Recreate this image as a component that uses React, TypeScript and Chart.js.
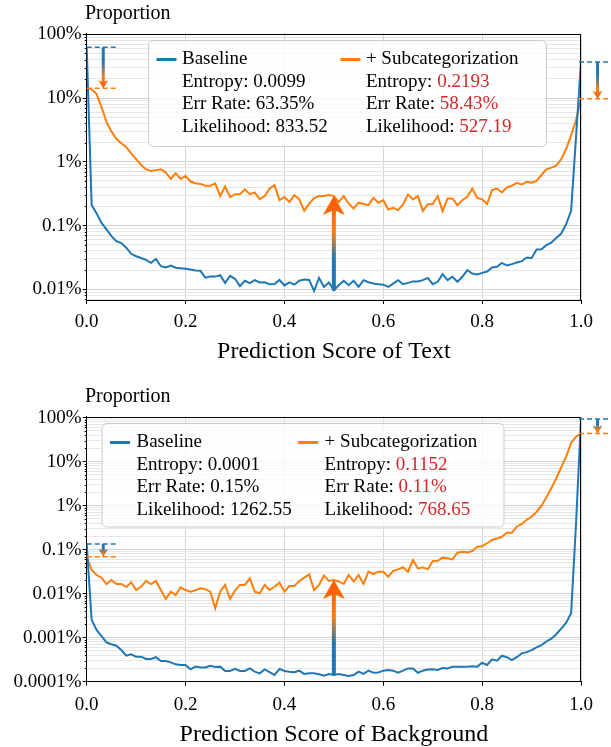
import React, { useEffect, useRef } from 'react';
import { Chart, registerables } from 'chart.js';

Chart.register(...registerables);

// ---------------- data ----------------
const SCORE_BINS = Array.from({ length: 101 }, (_, i) => i / 100);

// proportions in percent, Prediction Score of Text
const TEXT_BASELINE = [
  62.5, 0.21, 0.155, 0.11, 0.087, 0.068, 0.057, 0.053, 0.045, 0.036,
  0.033, 0.031, 0.029, 0.026, 0.030, 0.023, 0.022, 0.0235, 0.0218, 0.0214,
  0.021, 0.0205, 0.0197, 0.0195, 0.0152, 0.0158, 0.0158, 0.0166, 0.0126, 0.0162,
  0.0146, 0.0112, 0.0136, 0.0125, 0.0139, 0.0128, 0.0129, 0.012, 0.0121, 0.014,
  0.0115, 0.0128, 0.0118, 0.0136, 0.0142, 0.014, 0.0094, 0.0151, 0.0109, 0.0128,
  0.0097,
  0.0116, 0.0136, 0.0116, 0.0136, 0.0109, 0.0139, 0.0129, 0.0123, 0.012, 0.0118,
  0.0109, 0.0123, 0.0139, 0.012, 0.0126, 0.0133, 0.0133, 0.0139, 0.0151, 0.012,
  0.0131, 0.0173, 0.0139, 0.0157, 0.0131, 0.0157, 0.020, 0.0177, 0.0171, 0.0181,
  0.019, 0.022, 0.0225, 0.026, 0.0236, 0.0248, 0.0263, 0.0276, 0.0316, 0.0308,
  0.042, 0.0426, 0.0492, 0.054, 0.064, 0.075, 0.105, 0.17, 2.5, 36.7,
];

const TEXT_SUBCAT = [
  14.2, 13.8, 11.5, 7.2, 4.2, 3.0, 2.3, 1.95, 1.7, 1.35,
  1.1, 0.9, 0.76, 0.72, 0.74, 0.76, 0.68, 0.54, 0.66, 0.54,
  0.6, 0.49, 0.46, 0.45, 0.42, 0.42, 0.46, 0.29, 0.41, 0.28,
  0.31, 0.31, 0.37, 0.31, 0.33, 0.26, 0.29, 0.38, 0.43, 0.25,
  0.28, 0.235, 0.30, 0.26, 0.17, 0.22, 0.27, 0.29, 0.29, 0.30,
  0.29,
  0.235, 0.289, 0.222, 0.185, 0.228, 0.217, 0.209, 0.272, 0.228, 0.25,
  0.179, 0.19, 0.175, 0.215, 0.308, 0.257, 0.289, 0.17, 0.215, 0.217,
  0.289, 0.168, 0.266, 0.266, 0.209, 0.25, 0.282, 0.38, 0.272, 0.257,
  0.217, 0.36, 0.38, 0.33, 0.396, 0.42, 0.468, 0.44, 0.485, 0.47,
  0.5, 0.62, 0.76, 0.81, 0.88, 1.1, 1.6, 2.6, 4.5, 9.75,
];

// proportions in percent, Prediction Score of Background
const BG_BASELINE = [
  0.135, 0.00252, 0.0015, 0.00109, 0.000785, 0.000708, 0.000658, 0.000525, 0.00039, 0.00042,
  0.00037, 0.00037, 0.000328, 0.000328, 0.00036, 0.000295, 0.000295, 0.000275, 0.000248, 0.00024,
  0.00024, 0.000191, 0.00022, 0.00021, 0.00021, 0.000231, 0.000215, 0.00022, 0.000175, 0.000175,
  0.000195, 0.000175, 0.000175, 0.0002, 0.000169, 0.000155, 0.00019, 0.000165, 0.000142, 0.000195,
  0.000175, 0.000169, 0.000165, 0.000178, 0.00015, 0.000155, 0.000155, 0.000148, 0.000137, 0.00015,
  0.000142,
  0.00015, 0.000142, 0.000135, 0.000142, 0.000169, 0.00015, 0.000178, 0.00016, 0.000162, 0.000178,
  0.000185, 0.000178, 0.00016, 0.000178, 0.0002, 0.0002, 0.00016, 0.000178, 0.00019, 0.000192,
  0.000185, 0.000205, 0.0002, 0.00022, 0.00022, 0.00022, 0.00022, 0.000225, 0.00022, 0.00027,
  0.00024, 0.000323, 0.0003, 0.00039, 0.00036, 0.00031, 0.00036, 0.00044, 0.00047, 0.00052,
  0.0006, 0.00068, 0.00082, 0.00095, 0.0012, 0.0016, 0.0022, 0.0036, 0.4, 93,
];

const BG_SUBCAT = [
  0.069, 0.0346, 0.0266, 0.0231, 0.0166, 0.0205, 0.0166, 0.0166, 0.0142, 0.0182,
  0.0121, 0.0144, 0.0195, 0.0166, 0.0195, 0.0121, 0.0076, 0.0111, 0.0093, 0.014,
  0.0121, 0.0111, 0.012, 0.0132, 0.0127, 0.0111, 0.00466, 0.0111, 0.0158, 0.0076,
  0.0117, 0.0158, 0.0158, 0.0224, 0.0111, 0.0102, 0.0158, 0.0121, 0.0144, 0.018,
  0.0111, 0.015, 0.015, 0.0195, 0.0231, 0.0275, 0.0121, 0.0158, 0.026, 0.0195,
  0.0205,
  0.019, 0.0166, 0.0266, 0.019, 0.0266, 0.0166, 0.0316, 0.028, 0.0316, 0.0316,
  0.0243, 0.033, 0.0358, 0.04, 0.0316, 0.0583, 0.0375, 0.04, 0.036, 0.055,
  0.056, 0.066, 0.064, 0.06, 0.0855, 0.09, 0.087, 0.093, 0.117, 0.12,
  0.14, 0.166, 0.18, 0.197, 0.243, 0.243, 0.333, 0.384, 0.48, 0.56,
  0.72, 1.0, 1.55, 2.5, 4.2, 7.5, 13, 27, 37, 44,
];

const SERIES_NAMES = ['Baseline', '+ Subcategorization'];
const STAT_LABELS = ['Entropy: ', 'Err Rate: ', 'Likelihood: '];
const TEXT_BASE_STATS = ['0.0099', '63.35%', '833.52'];
const TEXT_SUB_STATS = ['0.2193', '58.43%', '527.19'];
const BG_BASE_STATS = ['0.0001', '0.15%', '1262.55'];
const BG_SUB_STATS = ['0.1152', '0.11%', '768.65'];

const X_TICK_STEP = 0.2;
const Y_LABEL = 'Proportion';

// ---------------- styles ----------------
const BLUE = '#1f77b4';
const ORANGE = '#ff7f0e';
const RED = '#d62728';
const ARROW_TIP = '#ff5500';
const FONT = "'Liberation Serif', 'Times New Roman', Times, serif";
const W = 611;
const H = 364;

Chart.defaults.font.family = FONT;

type Panel = {
  base: number[];
  sub: number[];
  baseStats: string[];
  subStats: string[];
  xTitle: string;
  yMin: number;
  yMax: number;
  padTop: number;
  xAxisH: number;
  tickPad: number;
  legend: { x: number; y: number; w: number; h: number; col2: number; textOff: number };
};

function isDecade(v: number | undefined) {
  if (!v || v <= 0) return false;
  const l = Math.log10(v);
  return Math.abs(l - Math.round(l)) < 1e-6;
}

function buildLogTicks(min: number, max: number) {
  const ticks: { value: number; major: boolean }[] = [];
  const e0 = Math.floor(Math.log10(min));
  const e1 = Math.ceil(Math.log10(max));
  for (let e = e0; e <= e1; e++) {
    for (let m = 1; m <= 9; m++) {
      const v = m * Math.pow(10, e);
      if (v >= min * 0.9999 && v <= max * 1.0001) ticks.push({ value: v, major: m === 1 });
    }
  }
  return ticks;
}

function dashed(ctx: CanvasRenderingContext2D, x1: number, x2: number, y: number, color: string) {
  ctx.save();
  ctx.strokeStyle = color;
  ctx.lineWidth = 1.5;
  ctx.setLineDash([5, 3]);
  ctx.beginPath();
  ctx.moveTo(x1, y);
  ctx.lineTo(x2, y);
  ctx.stroke();
  ctx.restore();
}

function gradArrow(
  ctx: CanvasRenderingContext2D,
  x: number,
  yStart: number,
  yEnd: number,
  shaft: number,
  headW: number,
  headL: number,
  notch: number,
  stops: [number, string][],
) {
  const dir = yEnd > yStart ? 1 : -1;
  const len = Math.abs(yEnd - yStart);
  const hl = Math.min(headL, len * 0.6);
  const hw = headW * (hl / headL);
  const nt = notch * (hl / headL);
  const g = ctx.createLinearGradient(x, yStart, x, yEnd);
  stops.forEach(([o, c]) => g.addColorStop(o, c));
  ctx.save();
  ctx.fillStyle = g;
  const yBack = yEnd - dir * (hl - nt);
  ctx.fillRect(x - shaft / 2, Math.min(yStart, yBack), shaft, Math.abs(yBack - yStart) + 0.5);
  ctx.beginPath();
  ctx.moveTo(x, yEnd);
  ctx.lineTo(x - hw / 2, yEnd - dir * hl);
  ctx.lineTo(x, yBack);
  ctx.lineTo(x + hw / 2, yEnd - dir * hl);
  ctx.closePath();
  ctx.fill();
  ctx.restore();
}

function roundRect(ctx: CanvasRenderingContext2D, x: number, y: number, w: number, h: number, r: number) {
  ctx.beginPath();
  ctx.moveTo(x + r, y);
  ctx.lineTo(x + w - r, y);
  ctx.arcTo(x + w, y, x + w, y + r, r);
  ctx.lineTo(x + w, y + h - r);
  ctx.arcTo(x + w, y + h, x + w - r, y + h, r);
  ctx.lineTo(x + r, y + h);
  ctx.arcTo(x, y + h, x, y + h - r, r);
  ctx.lineTo(x, y + r);
  ctx.arcTo(x, y, x + r, y, r);
  ctx.closePath();
}

function makeOverlay(p: Panel) {
  return {
    id: 'overlay',
    afterDraw(chart: any) {
      const ctx: CanvasRenderingContext2D = chart.ctx;
      const a = chart.chartArea;
      const xs = chart.scales.x;
      const ys = chart.scales.y;
      ctx.save();

      // top & right spines
      ctx.strokeStyle = '#000';
      ctx.lineWidth = 1;
      const rx = Math.round(a.right) - 0.5;
      ctx.beginPath();
      ctx.moveTo(a.left, Math.round(a.top) + 0.5);
      ctx.lineTo(rx, Math.round(a.top) + 0.5);
      ctx.lineTo(rx, a.bottom);
      ctx.stroke();

      // minor ticks on y
      ctx.beginPath();
      for (const t of ys.ticks) {
        if (isDecade(t.value)) continue;
        const y = Math.round(ys.getPixelForValue(t.value)) + 0.5;
        ctx.moveTo(a.left - 2, y);
        ctx.lineTo(a.left, y);
      }
      ctx.stroke();

      // arrows at both ends and centre
      const n = p.base.length - 1;
      const yb0 = ys.getPixelForValue(p.base[0]);
      const ys0 = ys.getPixelForValue(p.sub[0]);
      const ybN = ys.getPixelForValue(p.base[n]);
      const ysN = ys.getPixelForValue(p.sub[n]);
      const xl1 = xs.getPixelForValue(0);
      const xl2 = xs.getPixelForValue(0.065);
      dashed(ctx, xl1, xl2, yb0, BLUE);
      dashed(ctx, xl1, xl2, ys0, ORANGE);
      const xr1 = xs.getPixelForValue(0.996);
      const xr2 = W + 2;
      dashed(ctx, xr1, xr2, ybN, BLUE);
      dashed(ctx, xr1, xr2, ysN, ORANGE);
      const smallStops: [number, string][] = [
        [0, BLUE], [0.35, BLUE], [0.75, ORANGE], [1, ARROW_TIP],
      ];
      gradArrow(ctx, xs.getPixelForValue(0.0335), yb0, ys0, 3, 10, 8, 2, smallStops);
      gradArrow(ctx, xs.getPixelForValue(1.0335), ybN, ysN, 3, 10, 8, 2, smallStops);

      const mid = Math.round(n / 2);
      const midStops: [number, string][] = [
        [0, BLUE], [0.33, BLUE], [0.62, ORANGE], [0.82, '#ff6a05'], [1, ARROW_TIP],
      ];
      gradArrow(
        ctx,
        xs.getPixelForValue(SCORE_BINS[mid]),
        ys.getPixelForValue(p.base[mid]),
        ys.getPixelForValue(p.sub[mid]),
        4, 22, 19, 5, midStops,
      );

      // legend
      const L = p.legend;
      roundRect(ctx, L.x + 0.5, L.y + 0.5, L.w, L.h, 5);
      ctx.fillStyle = 'rgba(255,255,255,0.8)';
      ctx.fill();
      ctx.strokeStyle = '#cccccc';
      ctx.lineWidth = 1;
      ctx.stroke();

      const rowY = (k: number) => L.y + 19.5 + k * 22.4;
      ctx.font = `19px ${FONT}`;
      ctx.textBaseline = 'middle';
      ctx.textAlign = 'left';
      const cols = [
        { hx: L.x + 8.5, color: BLUE, stats: p.baseStats, valColor: '#000' },
        { hx: L.x + L.col2, color: ORANGE, stats: p.subStats, valColor: RED },
      ];
      cols.forEach((c, ci) => {
        ctx.strokeStyle = c.color;
        ctx.lineWidth = 3;
        ctx.beginPath();
        ctx.moveTo(c.hx, rowY(0));
        ctx.lineTo(c.hx + 20, rowY(0));
        ctx.stroke();
        const tx = c.hx + L.textOff;
        ctx.fillStyle = '#000';
        ctx.fillText(SERIES_NAMES[ci], tx, rowY(0));
        STAT_LABELS.forEach((lab, k) => {
          ctx.fillStyle = '#000';
          ctx.fillText(lab, tx, rowY(k + 1));
          const w = ctx.measureText(lab).width;
          ctx.fillStyle = c.valColor;
          ctx.fillText(c.stats[k], tx + w, rowY(k + 1));
        });
      });

      // y label
      ctx.fillStyle = '#000';
      ctx.font = `20px ${FONT}`;
      ctx.textBaseline = 'alphabetic';
      ctx.fillText(Y_LABEL, 85, 19.3);

      ctx.restore();
    },
  };
}

function PanelChart({ p, top }: { p: Panel; top: number }) {
  const ref = useRef<HTMLCanvasElement | null>(null);
  useEffect(() => {
    if (!ref.current) return;
    const chart = new Chart(ref.current, {
      type: 'line',
      data: {
        datasets: [
          {
            label: SERIES_NAMES[0],
            data: SCORE_BINS.map((x, i) => ({ x, y: p.base[i] })),
            borderColor: BLUE,
            borderWidth: 2,
            pointRadius: 0,
            tension: 0,
            fill: false,
          },
          {
            label: SERIES_NAMES[1],
            data: SCORE_BINS.map((x, i) => ({ x, y: p.sub[i] })),
            borderColor: ORANGE,
            borderWidth: 2,
            pointRadius: 0,
            tension: 0,
            fill: false,
          },
        ],
      },
      options: {
        animation: false,
        responsive: false,
        maintainAspectRatio: false,
        layout: { padding: { top: p.padTop, right: 30, left: 0, bottom: 0 } },
        plugins: {
          legend: { display: false },
          tooltip: { enabled: false },
        },
        scales: {
          x: {
            type: 'linear',
            min: 0,
            max: 1,
            position: 'bottom',
            ticks: {
              stepSize: X_TICK_STEP,
              callback: (v: any) => Number(v).toFixed(1),
              color: '#000',
              font: { size: 19 },
              padding: p.tickPad,
              maxRotation: 0,
              autoSkip: false,
            },
            grid: {
              color: '#d6d6d6',
              lineWidth: 1,
              drawTicks: true,
              tickLength: 4,
              tickColor: '#000',
              tickWidth: 1,
            },
            border: { display: true, color: '#000', width: 1 },
            title: {
              display: true,
              text: p.xTitle,
              color: '#000',
              font: { size: 24, lineHeight: 1 },
              padding: { top: 0, bottom: 0 },
            },
            afterFit: (s: any) => {
              s.height = p.xAxisH;
            },
          },
          y: {
            type: 'logarithmic',
            min: p.yMin,
            max: p.yMax,
            position: 'left',
            bounds: 'data',
            afterBuildTicks: (s: any) => {
              s.ticks = buildLogTicks(p.yMin, p.yMax);
            },
            ticks: {
              autoSkip: false,
              color: '#000',
              font: { size: 19 },
              padding: 1,
              callback: (v: any) => {
                const n = Number(v);
                if (!isDecade(n)) return '';
                return `${Math.pow(10, Math.round(Math.log10(n)))}%`;
              },
            },
            grid: {
              color: (c: any) => (isDecade(c.tick && c.tick.value) ? '#d2d2d2' : '#e6e6e6'),
              lineWidth: 1,
              drawTicks: true,
              tickLength: 4,
              tickColor: (c: any) => (isDecade(c.tick && c.tick.value) ? '#000' : 'rgba(0,0,0,0)'),
              tickWidth: 1,
            },
            border: { display: true, color: '#000', width: 1 },
            afterFit: (s: any) => {
              s.width = 86.7;
            },
          },
        },
      } as any,
      plugins: [makeOverlay(p)],
    });
    return () => chart.destroy();
  }, [p]);
  return (
    <canvas
      ref={ref}
      width={W}
      height={H}
      style={{ position: 'absolute', left: 0, top, width: W, height: H }}
    />
  );
}

const TEXT_PANEL: Panel = {
  base: TEXT_BASELINE,
  sub: TEXT_SUBCAT,
  baseStats: TEXT_BASE_STATS,
  subStats: TEXT_SUB_STATS,
  xTitle: 'Prediction Score of Text',
  yMin: 0.00679,
  yMax: 102.9,
  padTop: 33.5,
  xAxisH: 64,
  tickPad: 7,
  legend: { x: 148, y: 40, w: 398, h: 106, col2: 192.4, textOff: 25.5 },
};

const BG_PANEL: Panel = {
  base: BG_BASELINE,
  sub: BG_SUBCAT,
  baseStats: BG_BASE_STATS,
  subStats: BG_SUB_STATS,
  xTitle: 'Prediction Score of Background',
  yMin: 0.0001,
  yMax: 105.4,
  padTop: 33.7,
  xAxisH: 65.3,
  tickPad: 8,
  legend: { x: 101.5, y: 40, w: 402, h: 103.5, col2: 196.6, textOff: 26.5 },
};

export default function App() {
  return (
    <div
      style={{
        position: 'absolute',
        left: 0,
        top: 0,
        width: W,
        height: 747,
        background: '#fff',
        overflow: 'hidden',
      }}
    >
      <PanelChart p={TEXT_PANEL} top={0} />
      <PanelChart p={BG_PANEL} top={383} />
    </div>
  );
}
